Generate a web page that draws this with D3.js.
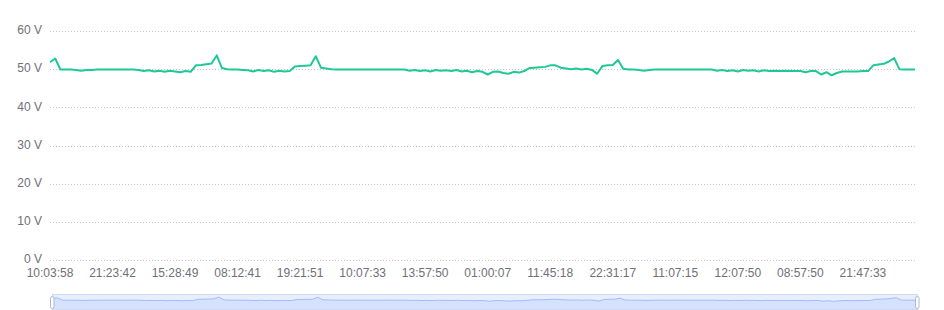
<!DOCTYPE html>
<html>
<head>
<meta charset="utf-8">
<script src="https://cdn.jsdelivr.net/npm/d3@7.9.0/dist/d3.min.js"></script>
<style>
  html, body { margin: 0; padding: 0; background: #fff; }
  svg { display: block; font-family: "Liberation Sans", Arial, sans-serif; }
</style>
</head>
<body>
<div id="chart"></div>
<script>
// voltage readings, one per sample
const voltage = [
  51.8, 52.8, 49.9, 49.9, 49.9, 49.8, 49.6, 49.8, 49.8, 49.9,
  49.9, 49.9, 49.9, 49.9, 49.9, 49.9, 49.9, 49.8, 49.5, 49.7,
  49.4, 49.6, 49.3, 49.6, 49.4, 49.2, 49.5, 49.3, 51.0, 51.1,
  51.3, 51.5, 53.6, 50.3, 50.0, 49.9, 49.9, 49.8, 49.7, 49.4,
  49.8, 49.5, 49.7, 49.3, 49.6, 49.4, 49.5, 50.7, 50.8, 50.9,
  51.0, 53.4, 50.4, 50.2, 50.0, 49.9, 49.9, 49.9, 49.9, 49.9,
  49.9, 49.9, 49.9, 49.9, 49.9, 49.9, 49.9, 49.9, 49.9, 49.6,
  49.8, 49.5, 49.7, 49.4, 49.8, 49.6, 49.7, 49.5, 49.8, 49.4,
  49.6, 49.2, 49.5, 49.3, 48.6, 49.3, 49.4, 49.0, 48.8, 49.3,
  49.1, 49.5, 50.3, 50.4, 50.5, 50.6, 51.0, 51.0, 50.4, 50.2,
  50.0, 50.2, 49.9, 50.1, 49.8, 48.8, 50.8, 51.0, 51.1, 52.4,
  50.1, 49.9, 49.9, 49.8, 49.6, 49.8, 49.9, 49.9, 49.9, 49.9,
  49.9, 49.9, 49.9, 49.9, 49.9, 49.9, 49.9, 49.9, 49.6, 49.8,
  49.5, 49.7, 49.4, 49.8, 49.6, 49.7, 49.4, 49.7, 49.5, 49.6,
  49.5, 49.6, 49.5, 49.5, 49.5, 49.2, 49.5, 49.5, 48.6, 49.2,
  48.4, 49.0, 49.4, 49.4, 49.4, 49.4, 49.5, 49.5, 51.0, 51.2,
  51.4, 52.0, 52.9, 50.0, 49.9, 49.9, 49.9
];

// time labels shown on the axis, every 12th sample
const timeLabels = [
  '10:03:58', '21:23:42', '15:28:49', '08:12:41', '19:21:51', '10:07:33', '13:57:50',
  '01:00:07', '11:45:18', '22:31:17', '11:07:15', '12:07:50', '08:57:50', '21:47:33'
];
const labelEvery = 12;

const yTicks = [0, 10, 20, 30, 40, 50, 60];

const width = 944, height = 310;
const grid = { left: 50, right: 915, top: 31, bottom: 260 };

const svg = d3.select('#chart').append('svg')
  .attr('width', width)
  .attr('height', height);

const x = d3.scaleLinear()
  .domain([0, voltage.length - 1])
  .range([grid.left, grid.right]);

const y = d3.scaleLinear()
  .domain([0, 60])
  .range([grid.bottom, grid.top]);

// dotted split lines + y labels
const yAxis = svg.append('g').attr('class', 'y-axis');
yAxis.selectAll('line')
  .data(yTicks)
  .join('line')
  .attr('x1', grid.left)
  .attr('x2', grid.right)
  .attr('y1', d => Math.round(y(d)) + 0.5)
  .attr('y2', d => Math.round(y(d)) + 0.5)
  .attr('stroke', '#c8c8c8')
  .attr('stroke-dasharray', '1,2');

yAxis.selectAll('text')
  .data(yTicks)
  .join('text')
  .attr('x', grid.left - 8)
  .attr('y', d => y(d) - 1)
  .attr('dy', '0.35em')
  .attr('text-anchor', 'end')
  .attr('fill', '#6E7079')
  .attr('font-size', 12)
  .text(d => d + ' V');

// x labels
svg.append('g').attr('class', 'x-axis')
  .selectAll('text')
  .data(timeLabels)
  .join('text')
  .attr('x', (d, i) => x(i * labelEvery))
  .attr('y', grid.bottom + 12.5)
  .attr('dy', '0.35em')
  .attr('text-anchor', 'middle')
  .attr('fill', '#6E7079')
  .attr('font-size', 12)
  .text(d => d);

// main line
const line = d3.line()
  .x((d, i) => x(i))
  .y(d => y(d));

svg.append('path')
  .datum(voltage)
  .attr('d', line)
  .attr('fill', 'none')
  .attr('stroke', '#1fc897')
  .attr('stroke-width', 2)
  .attr('stroke-linejoin', 'round');

// data zoom slider
const slider = { left: 52, right: 917, top: 294, bottom: 309 };

const sx = d3.scaleLinear()
  .domain([0, voltage.length - 1])
  .range([slider.left, slider.right]);
const sy = d3.scaleLinear()
  .domain([39, 57.5])
  .range([slider.bottom, slider.top]);

const sg = svg.append('g').attr('class', 'slider');

sg.append('rect')
  .attr('x', slider.left + 0.5)
  .attr('y', slider.top + 0.5)
  .attr('width', slider.right - slider.left)
  .attr('height', slider.bottom - slider.top)
  .attr('fill', 'rgba(135,175,255,0.2)')
  .attr('stroke', '#d2dbee');

sg.append('path')
  .datum(voltage)
  .attr('d', d3.area().x((d, i) => sx(i)).y0(slider.bottom).y1(d => sy(d)))
  .attr('fill', 'rgba(143,176,247,0.2)');

sg.append('path')
  .datum(voltage)
  .attr('d', d3.line().x((d, i) => sx(i)).y(d => sy(d)))
  .attr('fill', 'none')
  .attr('stroke', '#8fb0f7')
  .attr('stroke-width', 0.8);

sg.selectAll('rect.handle')
  .data([slider.left, slider.right])
  .join('rect')
  .attr('class', 'handle')
  .attr('x', d => d - 1.5)
  .attr('y', slider.top + 2.5)
  .attr('width', 3.5)
  .attr('height', 12)
  .attr('rx', 1.8)
  .attr('fill', '#fff')
  .attr('stroke', '#ACB8D1');
</script>
</body>
</html>
